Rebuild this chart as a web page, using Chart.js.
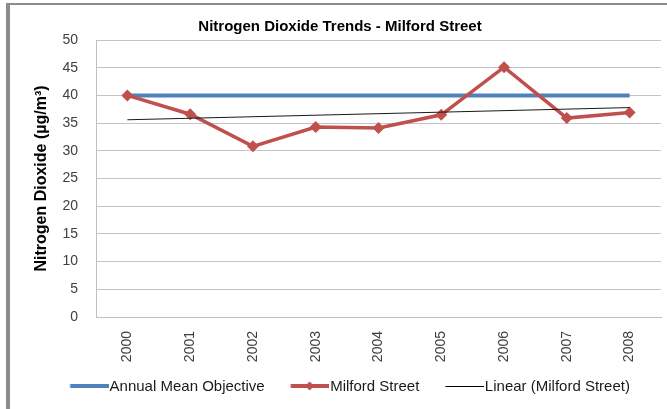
<!DOCTYPE html>
<html>
<head>
<meta charset="utf-8">
<script src="https://cdn.jsdelivr.net/npm/chart.js@4.4.1/dist/chart.umd.min.js"></script>
<style>
  html, body { margin:0; padding:0; background:#fff; }
  body { width:667px; height:409px; position:relative; overflow:hidden; }
  .frame { position:absolute; left:6px; top:3px; right:-10px; bottom:-10px; border-left:4px solid #8c8c8c; border-top:2px solid #8c8c8c; }
  #wrap { position:absolute; left:10px; top:5px; width:657px; height:404px; }
</style>
</head>
<body>
<div class="frame"></div>
<div id="wrap"><canvas id="chart" width="657" height="404"></canvas></div>
<script>
// data
const years = ['2000','2001','2002','2003','2004','2005','2006','2007','2008'];
const objective = [40, 40, 40, 40, 40, 40, 40, 40, 40];
const milford = [40.0, 36.6, 30.8, 34.3, 34.1, 36.5, 45.1, 35.9, 36.9];
const trend = [35.6, null, null, null, null, null, null, null, 37.8];

const BLUE = '#4f81bd', RED = '#c0504d';
const FONT = 'Arial, "Liberation Sans", sans-serif';

// legend swatch: 20px blank, then a line sample that runs up to the text
function swatch(color, width, diamond){
  const c = document.createElement('canvas');
  c.width = 65; c.height = 13;
  const g = c.getContext('2d');
  g.strokeStyle = color; g.lineWidth = width;
  const y = width % 2 ? 6.5 : 6;
  g.beginPath(); g.moveTo(26.5, y); g.lineTo(65, y); g.stroke();
  if(diamond){
    g.fillStyle = color;
    g.beginPath(); g.moveTo(45.5, 1.5); g.lineTo(50, 6); g.lineTo(45.5, 10.5); g.lineTo(41, 6); g.closePath(); g.fill();
  }
  return c;
}
const legendIcons = [swatch(BLUE, 4), swatch(RED, 4, true), swatch('#000', 1)];

new Chart(document.getElementById('chart'), {
  type: 'line',
  data: {
    labels: years,
    datasets: [
      { label:'Annual Mean Objective', data:objective, borderColor:BLUE, backgroundColor:BLUE, borderWidth:4, pointRadius:0, order:3 },
      { label:'Milford Street', data:milford, borderColor:RED, backgroundColor:RED, borderWidth:3.5,
        pointStyle:'rectRot', pointRadius:6, pointHoverRadius:6, pointBorderWidth:0, order:2 },
      { label:'Linear (Milford Street)', data:trend, borderColor:'#1a1a1a', borderWidth:1, pointRadius:0, spanGaps:true, order:1 }
    ]
  },
  options: {
    responsive: false,
    animation: false,
    layout: { padding: { left:8, right:5, top:0, bottom:5 } },
    scales: {
      x: {
        offset: true,
        grid: { display:true, drawOnChartArea:false, drawTicks:false },
        border: { color:'#bfbfbf' },
        ticks: { color:'#404040', font:{ family:FONT, size:14 }, minRotation:90, maxRotation:90, padding:14 },
        afterFit(scale){ scale.height = 56; }
      },
      y: {
        min: 0, max: 50,
        grid: { color:'#c4c4c4', drawTicks:false },
        border: { color:'#bfbfbf' },
        ticks: { stepSize:5, color:'#404040', font:{ family:FONT, size:14 }, padding:18 },
        title: { display:true, text:'Nitrogen Dioxide (µg/m³)', color:'#000',
                 font:{ family:FONT, size:16, weight:'bold', lineHeight:1.2 }, padding:{ top:14, bottom:10 } },
        afterFit(scale){ scale.width = 78; }
      }
    },
    plugins: {
      title: { display:true, text:'Nitrogen Dioxide Trends - Milford Street', color:'#000',
               font:{ family:FONT, size:15, weight:'bold', lineHeight:1.2 }, padding:{ top:13, bottom:4 } },
      legend: {
        position:'bottom',
        labels: {
          usePointStyle:true, pointStyleWidth:52, padding:6, color:'#1a1a1a',
          font:{ family:FONT, size:15 },
          sort:(a,b) => a.datasetIndex - b.datasetIndex,
          generateLabels(chart){
            const items = Chart.defaults.plugins.legend.labels.generateLabels(chart);
            items.forEach(it => { it.pointStyle = legendIcons[it.datasetIndex]; });
            return items;
          }
        }
      },
      tooltip: { enabled:false }
    }
  }
});
</script>
</body>
</html>
